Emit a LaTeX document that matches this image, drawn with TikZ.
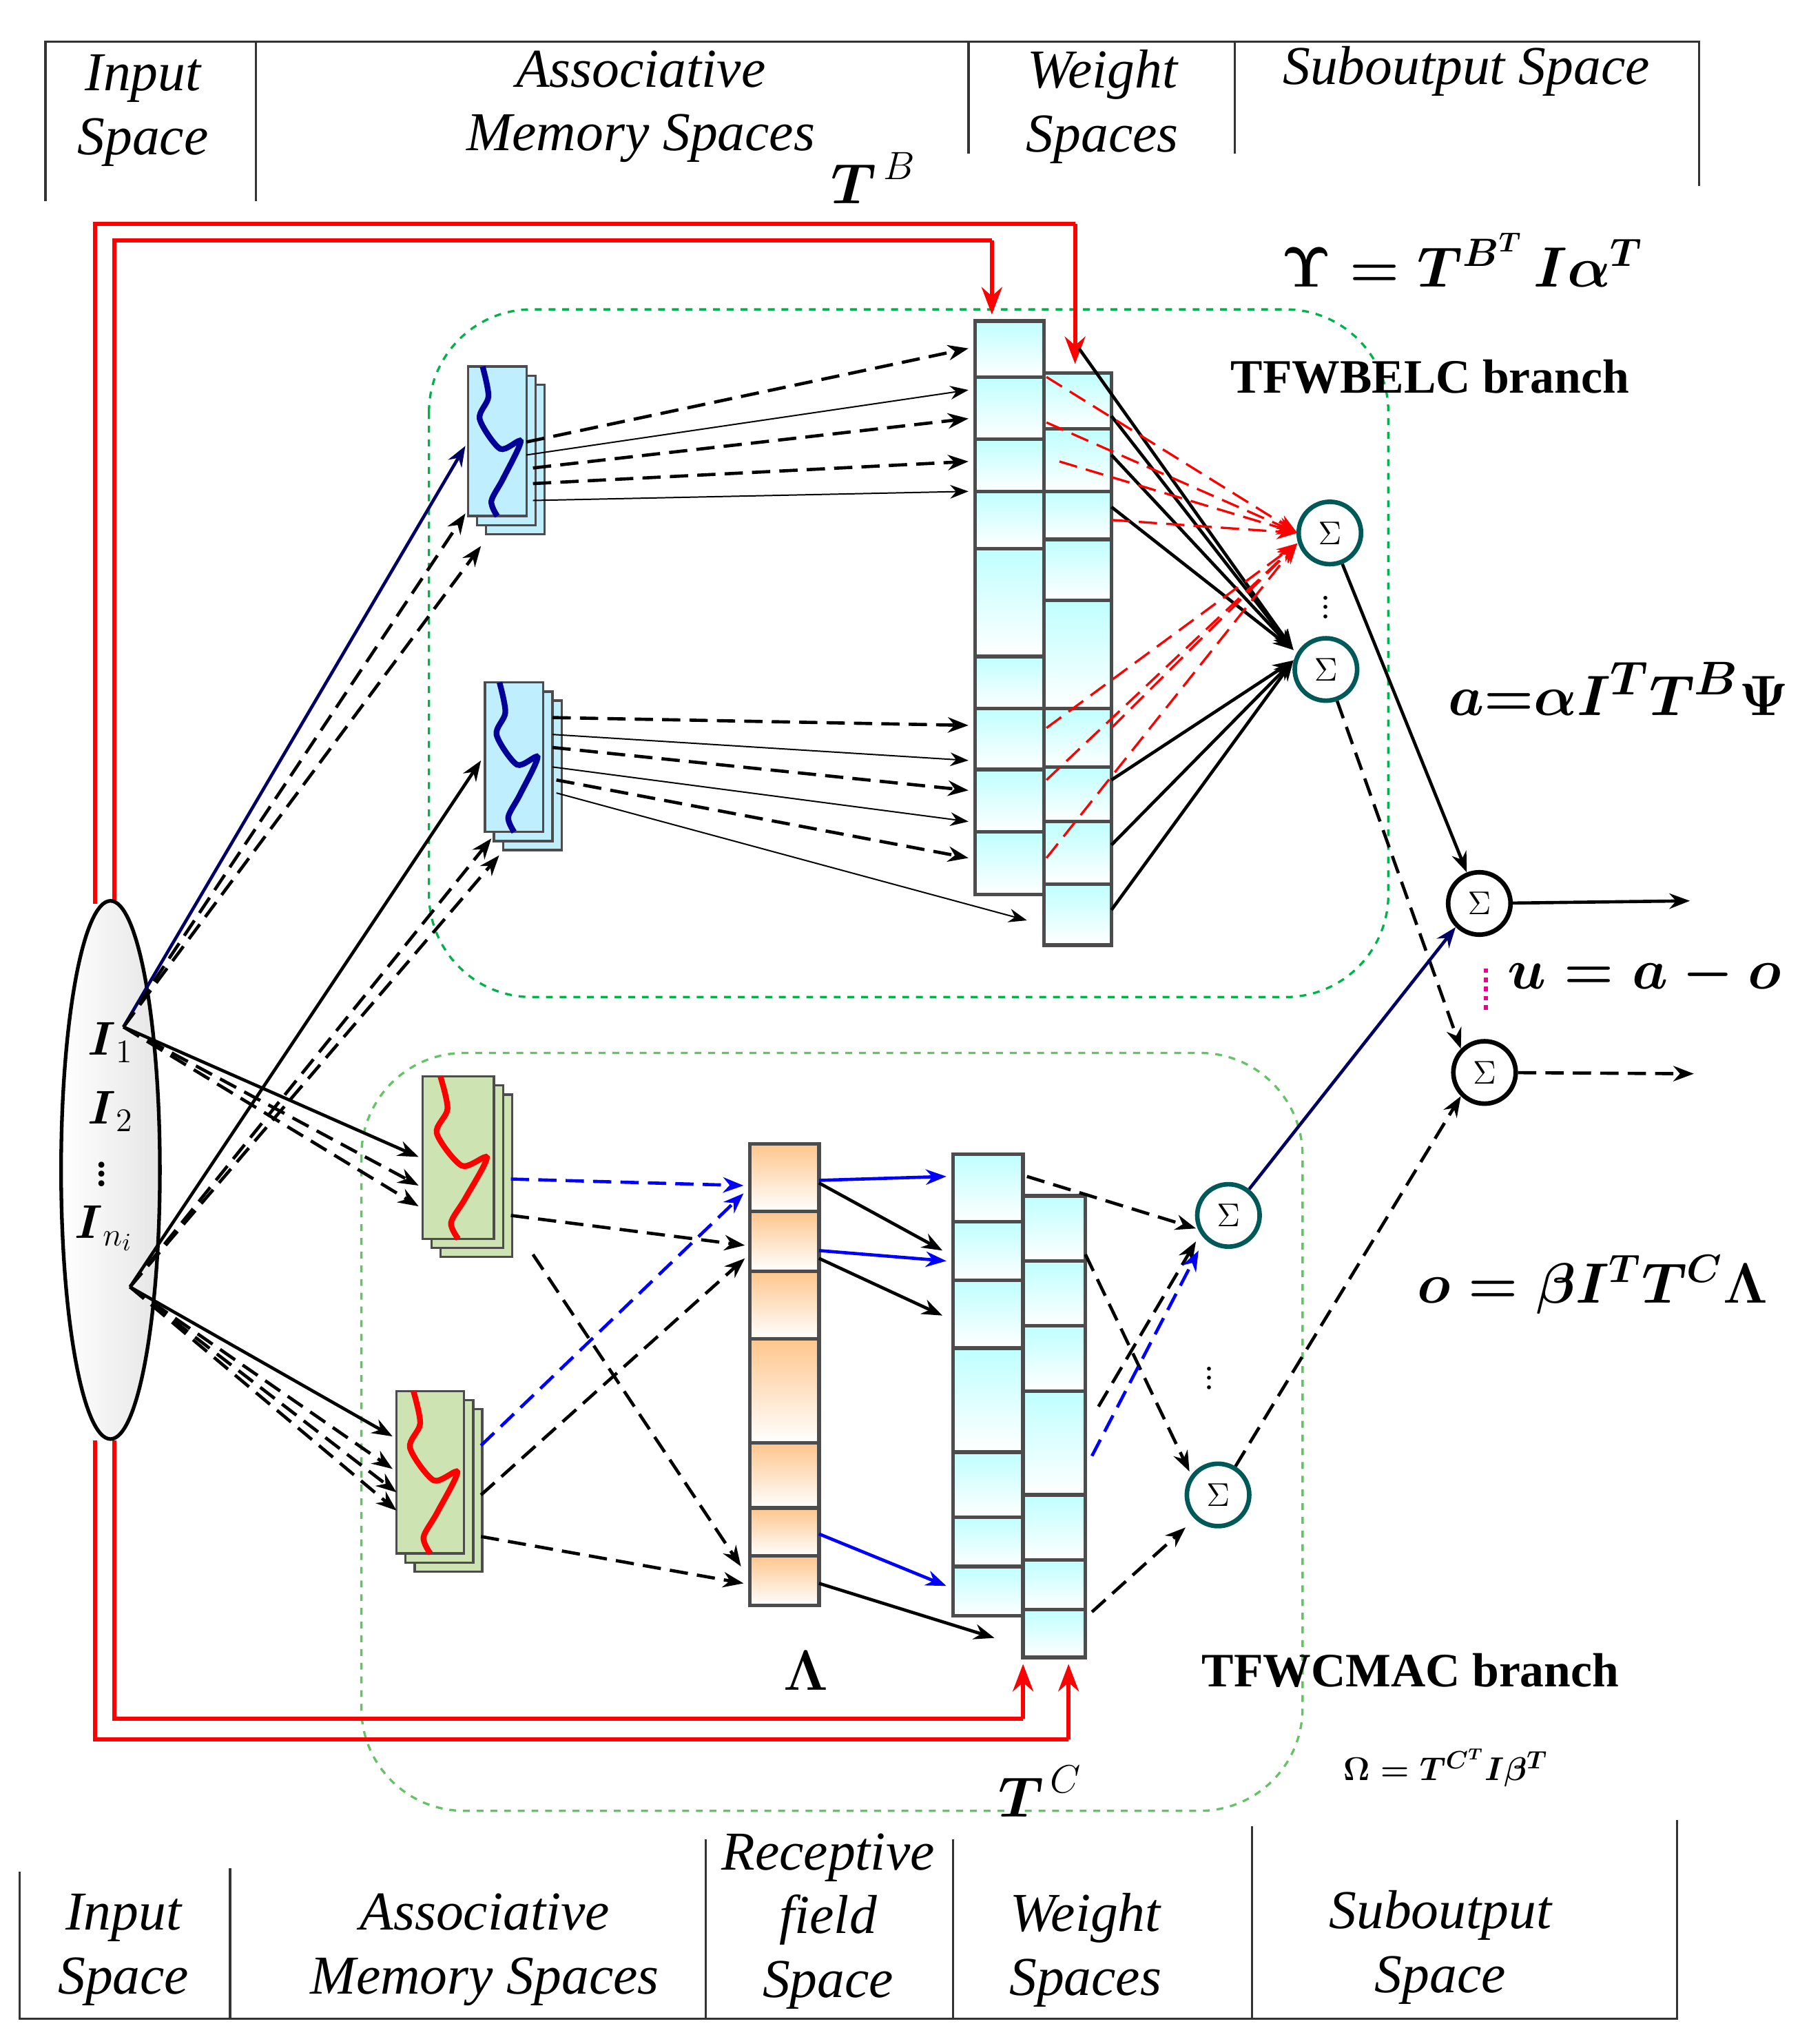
\documentclass[tikz,border=0pt]{standalone}
\usepackage{fontspec}
\setmainfont{Liberation Serif}
\usepackage{amsmath}
\usetikzlibrary{arrows.meta,shapes.geometric}
\begin{document}
\begin{tikzpicture}[x=0.02cm,y=-0.02cm,
 hd/.style={font=\fontsize{24}{28}\selectfont\itshape,align=center},
 frm/.style={line width=1pt,black!80},
 cell/.style={draw=black!70,line width=1.6pt},
 sumt/.style={circle,draw=teal!70!black,line width=2pt,fill=white,minimum size=48*0.02cm,inner sep=0,font=\Large},
 sumk/.style={circle,draw=black,line width=2pt,fill=white,minimum size=48*0.02cm,inner sep=0,font=\Large},
 da/.style={dashed,dash pattern=on 8pt off 4pt,line width=1.4pt,-{Stealth[length=9pt]}},
 so/.style={line width=1.4pt,-{Stealth[length=9pt]}},
 th/.style={line width=0.6pt,-{Stealth[length=8pt]}},
 red2/.style={red,line width=1.8pt},
 il/.style={font=\fontsize{22}{26}\selectfont,inner sep=0pt},
 lbl/.style={font=\fontsize{24}{28}\selectfont\bfseries\itshape}]
\useasboundingbox (0,0) rectangle (1400,1567);
% headers
\draw[frm] (35,155)--(35,32)--(1307,32)--(1307,143);
\draw[frm] (197,32)--(197,155) (745,32)--(745,118) (950,32)--(950,118);
\node[hd] (h1) at (110,85) {Input\\Space};
\node[hd] (h2) at (493,82) {Associative\\Memory Spaces};
\node[hd] (h3) at (848,82) {Weight\\Spaces};
\node[hd] (h4) at (1128,55) {Suboutput Space};
\draw[frm] (15,1440)--(15,1553)--(1290,1553)--(1290,1400);
\draw[frm] (177,1437)--(177,1553) (543,1415)--(543,1553) (733,1415)--(733,1553) (963,1405)--(963,1553);
\node[hd] (b1) at (95,1500) {Input\\Space};
\node[hd] (b2) at (373,1500) {Associative\\Memory Spaces};
\node[hd] (b3) at (637,1478) {Receptive\\field\\Space};
\node[hd] (b4) at (835,1500) {Weight\\Spaces};
\node[hd] (b5) at (1108,1498) {Suboutput\\Space};
% branch boxes
\draw[dashed,teal!60!green,line width=1pt,rounded corners=45] (330,238) rectangle (1068,767);
\draw[dashed,green!60!black!60,line width=1pt,rounded corners=45] (278,810) rectangle (1002,1393);
% red lines
\draw[red2] (73,695)--(73,172)--(827,172);
\draw[red2,-{Stealth[length=12pt]}] (827,172)--(827,280);
\draw[red2] (88,695)--(88,185)--(763,185);
\draw[red2,-{Stealth[length=12pt]}] (763,185)--(763,242);
\draw[red2] (73,1108)--(73,1338)--(822,1338);
\draw[red2,-{Stealth[length=12pt]}] (822,1338)--(822,1280);
\draw[red2] (88,1108)--(88,1322)--(787,1322);
\draw[red2,-{Stealth[length=12pt]}] (787,1322)--(787,1280);
% ellipse
\node[ellipse,draw,line width=1.6pt,minimum width=76*0.02cm,minimum height=414*0.02cm,shading=axis,top color=white,bottom color=gray!20,shading angle=90] (E) at (85,900) {};
\node[il] (i1) at (85,802) {$\boldsymbol{I}_1$};
\node[il] (i2) at (85,855) {$\boldsymbol{I}_2$};
\node[il] (i3) at (78,898) {$\vdots$};
\node[il] (i4) at (80,945) {$\boldsymbol{I}_{n_i}$};
\coordinate (P1) at (95,790);
\coordinate (P2) at (100,990);
% fuzzy blocks
\newcommand{\fblock}[7]{% x y w h fill wavecol name
 \foreach \o in {14,7,0}{\draw[#5,line width=1pt,draw=black!70] (#1+\o,#2+\o) rectangle ++(#3,#4);}
 \draw[#6,line width=2.5pt] plot[smooth] coordinates {(#1+0.25*#3,#2) (#1+0.35*#3,#2+0.2*#4) (#1+0.2*#3,#2+0.35*#4) (#1+0.55*#3,#2+0.55*#4) (#1+0.9*#3,#2+0.5*#4) (#1+0.6*#3,#2+0.75*#4) (#1+0.4*#3,#2+0.9*#4) (#1+0.5*#3,#2+#4)};
 \node[inner sep=0] (#7) at (#1+0.5*#3,#2+0.5*#4) {};}
\fblock{360}{282}{45}{115}{fill=blue!25!cyan!25}{blue!60!black}{f1}
\fblock{373}{525}{45}{115}{fill=blue!25!cyan!25}{blue!60!black}{f2}
\fblock{325}{828}{55}{125}{fill=green!30!olive!30}{red}{g1}
\fblock{305}{1070}{52}{125}{fill=green!30!olive!30}{red}{g2}
% columns
\newcommand{\col}[4]{% x w list color
 \foreach \a/\b in {#3}{\draw[cell,top color=#4,bottom color=white] (#1,\a) rectangle (#1+#2,\b);}}
\col{750}{53}{247/290,290/338,338/378,378/422,422/505,505/545,545/592,592/640,640/688}{cyan!25}
\col{803}{52}{287/330,330/378,378/415,415/462,462/545,545/590,590/632,632/680,680/727}{cyan!25}
\col{577}{53}{880/932,932/978,978/1030,1030/1110,1110/1160,1160/1197,1197/1235}{orange!45}
\col{733}{54}{888/940,940/985,985/1037,1037/1117,1117/1167,1167/1205,1205/1243}{cyan!25}
\col{787}{48}{920/970,970/1020,1020/1070,1070/1150,1150/1200,1200/1238,1238/1275}{cyan!25}
% sums
\node[sumt] (s1) at (1023,410) {$\Sigma$};
\node[sumt] (s2) at (1020,515) {$\Sigma$};
\node[sumk] (o1) at (1138,695) {$\Sigma$};
\node[sumk] (o2) at (1142,825) {$\Sigma$};
\node[sumt] (c1) at (945,935) {$\Sigma$};
\node[sumt] (c2) at (937,1150) {$\Sigma$};
\node[inner sep=0,font=\Large] (d1) at (1020,462) {$\vdots$};
\node[inner sep=0,font=\Large] (d2) at (930,1055) {$\vdots$};
% input connections
\draw[so,blue!40!black] (P1)--(358,343);
\draw[da] (P1)--(358,395);
\draw[da] (P1)--(370,420);
\draw[so] (P2)--(370,585);
\draw[da] (P2)--(378,645);
\draw[da] (P2)--(384,658);
\draw[so] (P1)--(322,890);
\draw[da] (P1)--(322,912);
\draw[da] (P1)--(322,928);
\draw[so] (P2)--(302,1105);
\draw[da] (P2)--(302,1130);
\draw[da] (P2)--(305,1148);
\draw[da] (P2)--(305,1162);
% block1 -> column
\draw[da] (405,340)--(745,268);
\draw[th] (405,350)--(745,300);
\draw[da] (410,360)--(745,322);
\draw[da] (410,372)--(745,355);
\draw[th] (410,385)--(745,378);
\draw[da] (425,552)--(745,558);
\draw[th] (425,565)--(745,585);
\draw[da] (425,575)--(745,608);
\draw[th] (425,590)--(745,632);
\draw[da] (428,600)--(745,660);
\draw[th] (428,610)--(790,708);
% column -> sums
\foreach \p in {(830,268),(855,320),(855,350),(855,390)} \draw[so] \p--(995,500);
\foreach \p in {(855,600),(855,650),(855,700)} \draw[so] \p--(995,508);
\foreach \p in {(805,290),(805,325),(815,355),(855,400)} \draw[red,dashed,dash pattern=on 8pt off 4pt,line width=1pt,-{Stealth[length=9pt]}] \p--(998,410);
\foreach \p in {(805,560),(805,600),(805,660),(855,560)} \draw[red,dashed,dash pattern=on 8pt off 4pt,line width=1pt,-{Stealth[length=9pt]}] \p--(998,418);
\draw[so] (s1)--(o1);
\draw[da] (s2)--(o2.north west);
\draw[so] (o1)--(1300,693);
\draw[da] (o2)--(1303,826);
\draw[so,blue!40!black] (c1)--(o1.south west);
\draw[da] (c2)--(o2.south west);
\draw[magenta,dotted,line width=2pt] (1143,745)--(1143,780);
% bottom
\draw[da,blue] (393,907)--(572,912);
\draw[da] (393,935)--(573,958);
\draw[da] (410,965)--(570,1205);
\draw[da,blue] (370,1112)--(572,918);
\draw[da] (370,1150)--(573,968);
\draw[da] (370,1182)--(572,1218);
\draw[so,blue] (630,908)--(728,905);
\draw[so,blue] (630,962)--(728,970);
\draw[so] (630,910)--(725,962);
\draw[so] (630,968)--(725,1012);
\draw[so,blue] (630,1180)--(728,1220);
\draw[so] (630,1218)--(765,1260);
\draw[da] (790,905)--(920,945);
\draw[da] (835,965)--(915,1132);
\draw[da] (845,1082)--(920,955);
\draw[da,blue] (840,1120)--(922,962);
\draw[da] (840,1240)--(912,1175);
% labels
\node[lbl] at (672,137) {$\boldsymbol{T}^{\,B}$};
\node[font=\fontsize{26}{30}\selectfont\bfseries] at (1125,200) {$\boldsymbol{\Upsilon=T^{B^T}\,I\alpha^T}$};
\node[font=\fontsize{21}{25}\selectfont\bfseries] at (1100,290) {TFWBELC branch};
\node[font=\fontsize{28}{32}\selectfont\bfseries] at (1245,530) {$\boldsymbol{a{=}\alpha I^T T^B\Psi}$};
\node[font=\fontsize{30}{34}\selectfont\bfseries] at (1265,750) {$\boldsymbol{u=a-o}$};
\node[font=\fontsize{26}{30}\selectfont\bfseries] at (1225,988) {$\boldsymbol{o=\beta I^T T^C\Lambda}$};
\node[font=\fontsize{21}{25}\selectfont\bfseries] at (1085,1285) {TFWCMAC branch};
\node[font=\fontsize{30}{34}\selectfont\bfseries] at (620,1285) {$\boldsymbol{\Lambda}$};
\node[font=\fontsize{15}{18}\selectfont\bfseries] at (1112,1360) {$\boldsymbol{\Omega=T^{C^T}I\beta^T}$};
\node[lbl] at (800,1378) {$\boldsymbol{T}^{\,C}$};
\end{tikzpicture}
\end{document}
